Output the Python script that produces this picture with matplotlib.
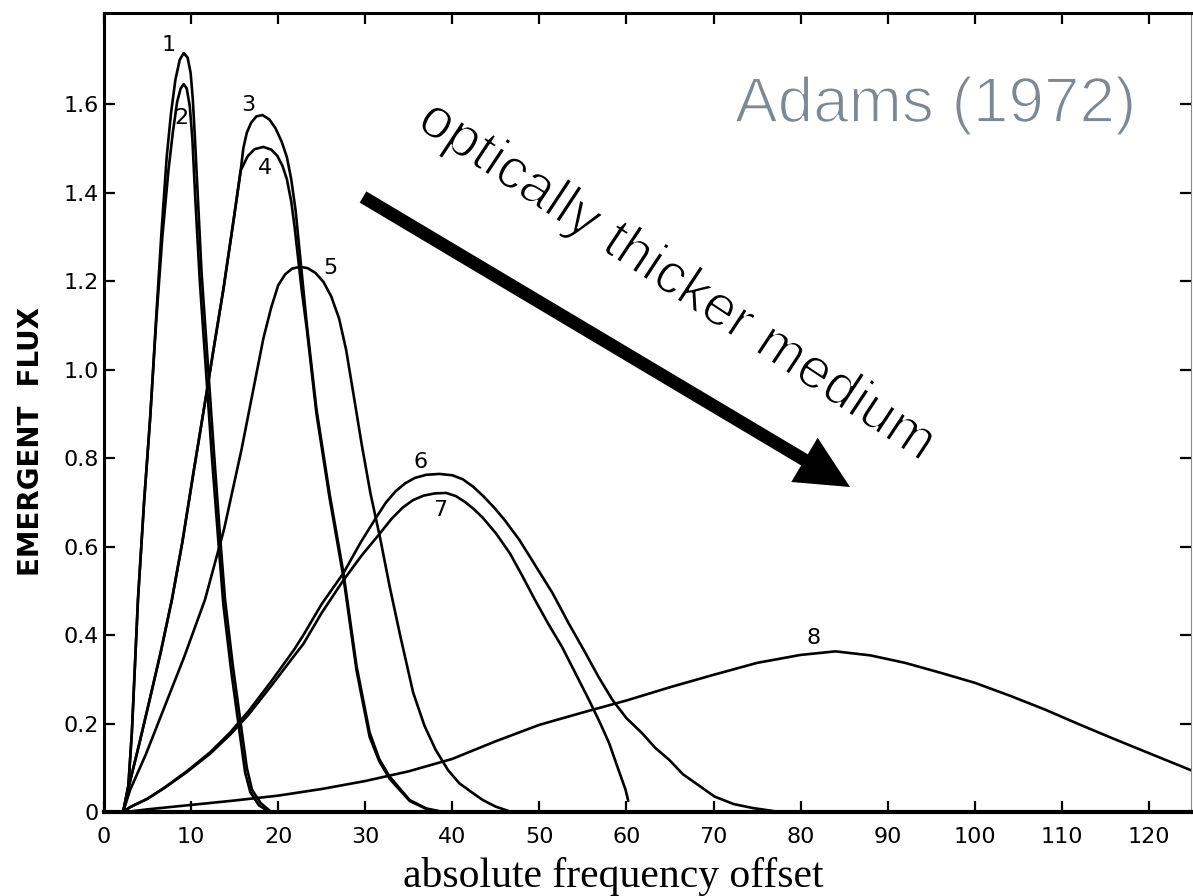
import matplotlib
matplotlib.use("Agg")
import matplotlib.pyplot as plt
import matplotlib.patheffects as pe
from matplotlib.patches import FancyArrowPatch

# ---------------- data ----------------
x_ticks = [0, 10, 20, 30, 40, 50, 60, 70, 80, 90, 100, 110, 120]
x_tick_labels = ["0", "10", "20", "30", "40", "50", "60", "70", "80", "90", "100", "110", "120"]
y_ticks = [0, 0.2, 0.4, 0.6, 0.8, 1.0, 1.2, 1.4, 1.6]
y_tick_labels = ["0", "0.2", "0.4", "0.6", "0.8", "1.0", "1.2", "1.4", "1.6"]

c1_x = [2.2, 2.8, 3.2, 3.9, 4.6, 5.3, 6.0, 6.6, 7.2, 7.7, 8.2, 8.7, 9.15, 9.6, 9.95, 10.2, 10.45, 10.8,
        11.2, 11.9, 12.6, 13.3, 13.9, 14.8, 15.7, 16.4, 17.0, 18.0, 19.2]
c1_y = [0.0, 0.06, 0.18, 0.48, 0.70, 0.89, 1.12, 1.31, 1.48, 1.58, 1.655, 1.70, 1.715, 1.705, 1.67, 1.61, 1.52, 1.38,
        1.22, 1.02, 0.82, 0.63, 0.48, 0.33, 0.20, 0.10, 0.05, 0.02, 0.0]

c2_x = [2.2, 2.8, 3.2, 3.9, 4.6, 5.3, 6.0, 6.7, 7.4, 7.9, 8.4, 8.8, 9.15, 9.5, 9.85, 10.15, 10.5, 11.0,
        11.7, 12.4, 13.1, 13.7, 14.6, 15.5, 16.2, 16.8, 17.8, 19.0]
c2_y = [0.0, 0.06, 0.18, 0.48, 0.70, 0.89, 1.11, 1.30, 1.45, 1.535, 1.605, 1.635, 1.645, 1.635, 1.595, 1.52, 1.38, 1.20,
        1.00, 0.80, 0.62, 0.47, 0.32, 0.19, 0.09, 0.045, 0.015, 0.0]

c3_x = [2.2, 3.0, 4.0, 5.2, 6.5, 7.8, 9.0, 10.3, 11.8, 12.7, 13.7, 14.9, 15.7, 16.0, 16.4, 16.9,
        17.5, 18.2, 19.0, 19.7, 20.4, 21.0, 21.5, 22.0, 22.4, 22.8, 23.3, 24.4, 25.9, 27.5, 29.0,
        30.5, 31.6, 32.8, 35.1, 37.0, 38.9]
c3_y = [0.0, 0.07, 0.15, 0.25, 0.36, 0.48, 0.61, 0.77, 0.95, 1.06, 1.18, 1.34, 1.45, 1.50, 1.535, 1.558,
        1.572, 1.575, 1.565, 1.545, 1.515, 1.48, 1.43, 1.36, 1.28, 1.20, 1.10, 0.91, 0.72, 0.54, 0.33,
        0.18, 0.12, 0.08, 0.027, 0.008, 0.0]

c4_x = [2.2, 3.0, 4.0, 5.2, 6.5, 7.8, 9.0, 10.3, 11.8, 12.7, 13.7, 14.9, 15.7, 16.5, 17.3, 18.3,
        19.2, 19.9, 20.5, 21.0, 21.5, 21.9, 22.3, 22.7, 23.3, 24.4, 25.9, 27.5, 29.0, 30.5, 31.6,
        32.8, 35.1, 37.0, 38.9]
c4_y = [0.0, 0.07, 0.15, 0.25, 0.36, 0.48, 0.61, 0.77, 0.95, 1.06, 1.18, 1.34, 1.45, 1.482, 1.498, 1.503,
        1.497, 1.483, 1.46, 1.43, 1.38, 1.32, 1.25, 1.18, 1.09, 0.90, 0.71, 0.53, 0.32, 0.17, 0.115,
        0.075, 0.025, 0.007, 0.0]

c5_x = [2.2, 3.0, 4.8, 7.0, 9.2, 11.6, 13.8, 15.8, 17.2, 18.3, 19.2, 20.0, 20.8, 21.6, 22.5, 23.4,
        24.3, 25.2, 26.1, 27.0, 27.8, 28.6, 29.6, 30.6, 31.7, 32.8, 34.0, 35.5, 36.8, 38.1, 39.5,
        40.8, 42.2, 43.5, 45.0, 46.8]
c5_y = [0.0, 0.05, 0.13, 0.24, 0.35, 0.48, 0.64, 0.82, 0.96, 1.07, 1.14, 1.19, 1.215, 1.228, 1.232, 1.229,
        1.218, 1.198, 1.165, 1.115, 1.045, 0.95, 0.83, 0.72, 0.62, 0.51, 0.40, 0.27, 0.195, 0.14, 0.095,
        0.065, 0.045, 0.027, 0.012, 0.0]

c6_x = [2.2, 3.0, 5.0, 7.0, 9.5, 12.2, 14.5, 16.6, 19.2, 21.8, 22.9, 25.0, 27.5, 29.5, 31.3, 32.4,
        33.5, 34.6, 35.7, 37.0, 38.5, 40.0, 41.2, 42.4, 43.6, 44.8, 46.0, 47.7, 49.6, 51.5, 53.4,
        55.3, 56.8, 58.4, 60.0, 61.8, 63.3, 64.9, 66.5, 68.6, 70.1, 72.3, 74.5, 77.6]
c6_y = [0.0, 0.011, 0.03, 0.056, 0.092, 0.135, 0.18, 0.228, 0.295, 0.366, 0.40, 0.47, 0.54, 0.61, 0.667, 0.70,
        0.725, 0.743, 0.755, 0.762, 0.764, 0.761, 0.752, 0.735, 0.713, 0.688, 0.66, 0.615, 0.555, 0.495, 0.425,
        0.359, 0.305, 0.253, 0.212, 0.178, 0.145, 0.118, 0.085, 0.056, 0.035, 0.018, 0.009, 0.0]

c7_x = [2.2, 3.0, 5.0, 7.0, 9.5, 12.2, 14.5, 16.6, 19.2, 21.8, 22.9, 25.0, 27.5, 29.6, 31.7, 33.0,
        34.3, 35.5, 36.7, 38.0, 39.3, 40.4, 41.5, 42.5, 43.5, 45.0, 46.6, 48.0, 49.5, 51.0, 52.6,
        54.1, 55.7, 57.0, 58.0, 59.0, 59.9, 60.2]
c7_y = [0.0, 0.011, 0.03, 0.055, 0.09, 0.132, 0.175, 0.22, 0.285, 0.352, 0.38, 0.45, 0.524, 0.58, 0.63, 0.662,
        0.688, 0.705, 0.715, 0.72, 0.721, 0.714, 0.70, 0.684, 0.665, 0.63, 0.585, 0.535, 0.479, 0.426, 0.373,
        0.315, 0.253, 0.2, 0.156, 0.1, 0.05, 0.025]

c8_x = [2.5, 5, 10, 15, 20, 25, 30, 35, 40, 45, 50, 55, 60, 65, 70, 75, 80, 84, 88, 92,
        96, 100, 104, 108, 112, 116, 120, 125]
c8_y = [0.0, 0.006, 0.016, 0.026, 0.037, 0.052, 0.07, 0.092, 0.12, 0.16, 0.197, 0.225, 0.252, 0.282, 0.31,
        0.337, 0.355, 0.363, 0.354, 0.337, 0.315, 0.292, 0.263, 0.232, 0.198, 0.165, 0.133, 0.093]

curves = [(c1_x, c1_y), (c2_x, c2_y), (c3_x, c3_y), (c4_x, c4_y),
          (c5_x, c5_y), (c6_x, c6_y), (c7_x, c7_y), (c8_x, c8_y)]
curve_names = ["1", "2", "3", "4", "5", "6", "7", "8"]

# ---------------- figure ----------------
W, H, DPI = 1193, 896, 100
fig = plt.figure(figsize=(W / DPI, H / DPI), dpi=DPI)
fig.patch.set_facecolor("white")

L_px, R_px, B_px, T_px = 104, 1191, 812, 13
x0_px, px_per_unit_x, px_per_unit_y = 100.0, 8.74, 442.5
ax = fig.add_axes([L_px / W, (H - B_px) / H, (R_px - L_px) / W, (B_px - T_px) / H])
ax.set_xlim((L_px - x0_px) / px_per_unit_x, (R_px - x0_px) / px_per_unit_x)
ax.set_ylim(0, (B_px - T_px) / px_per_unit_y)

for cx, cy in curves:
    ax.plot(cx, cy, color="black", lw=1.9, solid_joinstyle="round", solid_capstyle="round")

label_pos = [(7.44, 1.733), (8.92, 1.568), (16.6, 1.598), (18.5, 1.455),
             (26.0, 1.229), (36.3, 0.791), (38.6, 0.682), (81.5, 0.393)]
for name, (lx, ly) in zip(curve_names, label_pos):
    ax.text(lx, ly, name, fontsize=16, ha="center", va="center", color="black")

ax.set_xticks(x_ticks)
ax.set_xticklabels(x_tick_labels)
ax.set_yticks(y_ticks)
ax.set_yticklabels(y_tick_labels)
ax.tick_params(which="both", direction="in", top=True, right=True,
               length=8, width=1.6, labelsize=16, colors="black")
ax.tick_params(axis="x", pad=11)
ax.tick_params(axis="y", pad=4)

ax.spines["left"].set_linewidth(2.2)
ax.spines["top"].set_linewidth(2.2)
ax.spines["bottom"].set_linewidth(3.0)
ax.spines["right"].set_linewidth(0.8)
ax.spines["right"].set_color("#8a8a8a")

# axis titles
fig.text(31 / W, 1 - 442 / H, "EMERGENT  FLUX", rotation=90, fontsize=20,
         fontweight="bold", ha="center", va="center", family="DejaVu Sans")
fig.text(403 / W, (H - 887) / H, "absolute frequency offset", family="Liberation Serif",
         fontsize=30, ha="left", va="baseline", color="black")

# annotations: Helvetica-metric face, thinned slightly to resemble a light weight
thin = [pe.Normal(), pe.Stroke(linewidth=1.3, foreground="white")]
fig.text(735 / W, (H - 122) / H, "Adams (1972)", family="Liberation Sans",
         fontsize=46, color="#7d8891", ha="left", va="baseline", path_effects=thin)
fig.text(677 / W, 1 - 282 / H, "optically thicker medium", family="Liberation Sans",
         fontsize=41, rotation=-33.5, rotation_mode="anchor", ha="center", va="center",
         color="black", path_effects=thin)
arrow = FancyArrowPatch(posA=(363 / W, 1 - 197 / H), posB=(850 / W, 1 - 487 / H),
                        transform=fig.transFigure,
                        arrowstyle="simple,head_length=1.06,head_width=1.03,tail_width=0.26",
                        mutation_scale=36, color="black", lw=0, shrinkA=0, shrinkB=0)
fig.add_artist(arrow)

fig.savefig("out.png", dpi=DPI)
